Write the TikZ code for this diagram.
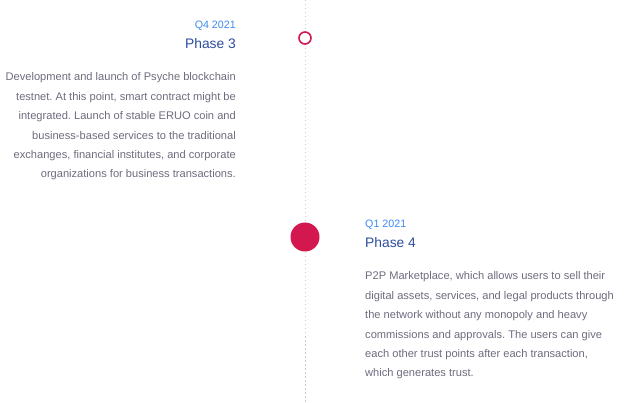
\documentclass[tikz,border=0pt]{standalone}
\usepackage{fontspec}
\setmainfont{Liberation Sans}
\frenchspacing
\definecolor{qblue}{HTML}{3D8BEF}
\definecolor{pblue}{HTML}{2C4C9E}
\definecolor{bodygray}{HTML}{6C6C7E}
\definecolor{crimson}{HTML}{D3174F}
\definecolor{linegray}{HTML}{C8C8CE}
\begin{document}
\begin{tikzpicture}[x=1pt,y=-1pt,
  quarter/.style={inner sep=0pt,font=\fontsize{10.7}{12}\selectfont,text=qblue},
  phase/.style={inner sep=0pt,font=\fontsize{13.8}{16}\selectfont,text=pblue},
  body/.style={inner sep=0pt,font=\fontsize{11.1}{13}\selectfont,text=bodygray},
  hollowdot/.style={circle,draw=crimson,line width=1.6pt,fill=white,minimum size=12pt,inner sep=0pt},
  filldot/.style={circle,fill=crimson,minimum size=29pt,inner sep=0pt}]
\useasboundingbox (0,0) rectangle (640,403);
\coordinate (top) at (305,0);
\coordinate (bot) at (305,403);
\draw[linegray,line width=0.9pt,dash pattern=on 1.5pt off 2.5pt] (top) -- (bot);
\node[hollowdot] (d3) at (305,38) {};
\node[filldot] (d4) at (305,237) {};
% Phase 3
\node[quarter,anchor=base east] (q3) at (236,29) {Q4 2021};
\node[phase,anchor=base east] (p3) at (236,49) {Phase 3};
\foreach \t [count=\i] in {Development and launch of Psyche blockchain,
  {testnet. At this point, smart contract might be},
  integrated. Launch of stable ERUO coin and,
  business-based services to the traditional,
  {exchanges, financial institutes, and corporate},
  organizations for business transactions.}
  \node[body,anchor=base east] (a\i) at (236,{61.5+19.4*\i}) {\t};
% Phase 4
\node[quarter,anchor=base west] (q4) at (365,228) {Q1 2021};
\node[phase,anchor=base west] (p4) at (365,248) {Phase 4};
\foreach \t [count=\i] in {{P2P Marketplace, which allows users to sell their},
  {digital assets, services, and legal products through},
  the network without any monopoly and heavy,
  commissions and approvals. The users can give,
  {each other trust points after each transaction,},
  which generates trust.}
  \node[body,anchor=base west] (b\i) at (365,{260.5+19.4*\i}) {\t};
\end{tikzpicture}
\end{document}
